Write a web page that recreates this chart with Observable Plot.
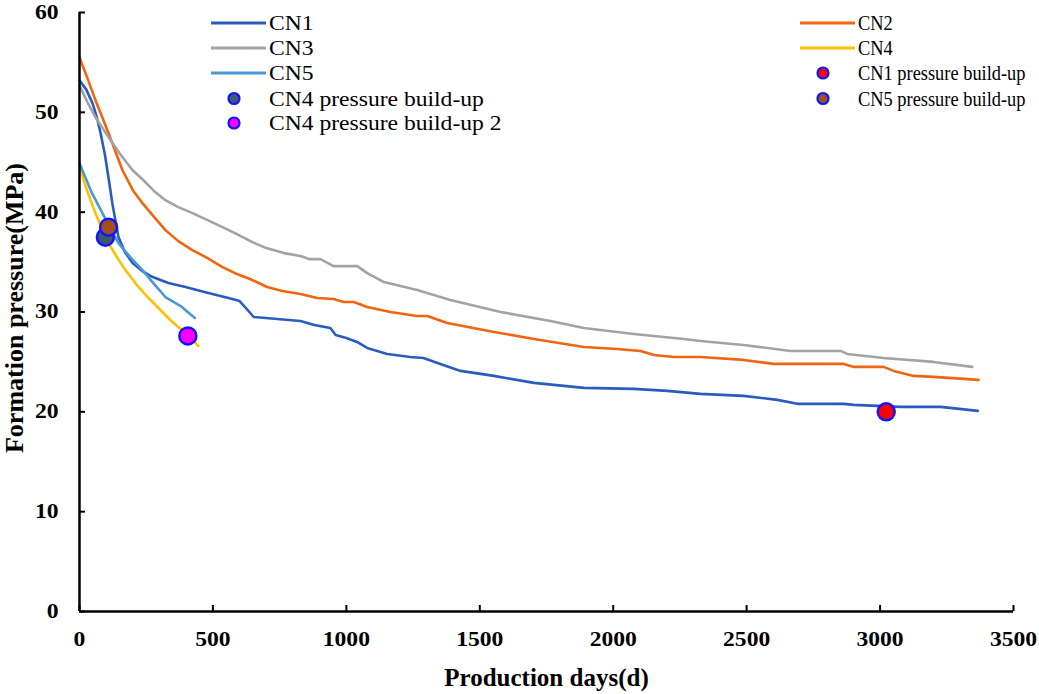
<!DOCTYPE html>
<html>
<head>
<meta charset="utf-8">
<script src="https://cdn.jsdelivr.net/npm/d3@7"></script>
<script src="https://cdn.jsdelivr.net/npm/@observablehq/plot@0.6"></script>
<style>
  body { margin: 0; background: #fff; }
  #wrap { position: relative; width: 1039px; height: 694px; font-family: "Liberation Serif", "Times New Roman", serif; }
  #legend { position: absolute; left: 0; top: 0; }
</style>
</head>
<body>
<div id="wrap"></div>
<script>
// ---- data ----
const cn1Days = [0,25,49,65,79,95,109,123,146,170,199,235,274,333,397,483,558,600,630,653,741,828,880,940,960,1000,1040,1078,1153,1240,1289,1352,1428,1553,1703,1890,2077,2203,2327,2488,2615,2690,2864,2902,3077,3227,3366];
const cn1Vals = [53.2,52.3,50.9,49.5,47.9,45.8,43.4,40.9,37.5,36.0,34.9,34.1,33.5,32.9,32.5,31.9,31.4,31.1,30.2,29.5,29.3,29.1,28.7,28.4,27.7,27.4,27.0,26.4,25.8,25.5,25.4,24.8,24.1,23.6,22.9,22.4,22.3,22.1,21.8,21.6,21.2,20.8,20.8,20.7,20.5,20.5,20.1];

const cn2Days = [0,30,60,109,161,200,236,280,322,370,423,480,536,590,648,703,760,828,891,952,990,1028,1078,1165,1265,1303,1378,1553,1703,1890,2015,2102,2153,2227,2327,2488,2601,2864,2902,3013,3051,3126,3200,3369];
const cn2Vals = [55.5,53.4,51.2,47.9,44.2,42.2,40.9,39.5,38.2,37.1,36.2,35.4,34.5,33.8,33.2,32.5,32.1,31.8,31.4,31.3,31.0,31.0,30.5,30.0,29.6,29.6,28.9,28.0,27.3,26.5,26.3,26.1,25.7,25.5,25.5,25.2,24.8,24.8,24.5,24.5,24.1,23.6,23.5,23.2];

const cn3Days = [0,30,60,109,150,199,236,280,322,370,423,480,536,590,648,700,766,828,860,903,952,1041,1078,1141,1265,1390,1578,1765,1890,2015,2077,2265,2327,2488,2664,2852,2877,3013,3200,3346];
const cn3Vals = [52.7,51.0,49.5,47.5,45.9,44.2,43.3,42.1,41.2,40.5,39.9,39.2,38.5,37.8,37.0,36.4,35.9,35.6,35.3,35.3,34.6,34.6,33.9,33.0,32.2,31.2,30.0,29.1,28.4,28.0,27.8,27.3,27.1,26.7,26.1,26.1,25.8,25.4,25.0,24.5];

const cn4Days = [0,20,40,60,85,109,140,172,215,259,303,340,379,410,445];
const cn4Vals = [44.7,42.8,41.3,39.9,38.3,36.9,35.5,34.2,32.7,31.4,30.2,29.2,28.3,27.6,26.6];

const cn5Days = [0,11,45,86,115,146,190,236,280,322,379,432];
const cn5Vals = [44.9,44.2,42.0,39.9,38.4,36.9,35.5,34.2,32.8,31.5,30.6,29.4];

const seriesNames = ["CN1","CN2","CN3","CN4","CN5"];
const seriesColors = ["#2a5cbf","#f0650f","#a3a3a3","#ffc000","#4a98d6"];

const pointNames = ["CN4 pressure build-up","CN4 pressure build-up 2","CN1 pressure build-up","CN5 pressure build-up"];
const pointDays = [97, 406, 3023, 109];
const pointVals = [37.5, 27.6, 20.0, 38.5];
const pointFills = ["#3c5a6e","#ff00ff","#ff0000","#a0501e"];
const pointStroke = "#1414ff";

const xTicks = [0,500,1000,1500,2000,2500,3000,3500];
const yTicks = [0,10,20,30,40,50,60];
const xLabel = "Production days(d)";
const yLabel = "Formation pressure(MPa)";

// ---- build table ----
const allDays = [cn1Days,cn2Days,cn3Days,cn4Days,cn5Days];
const allVals = [cn1Vals,cn2Vals,cn3Vals,cn4Vals,cn5Vals];
const lines = [];
seriesNames.forEach((s, i) => allDays[i].forEach((d, j) => lines.push({series: s, day: d, p: allVals[i][j]})));
const points = pointNames.map((n, i) => ({name: n, day: pointDays[i], p: pointVals[i], fill: pointFills[i]}));

const font = '"Liberation Serif", "Times New Roman", serif';
const stretch = 1.18; // horizontal stretch of the reference's text

const chart = Plot.plot({
  width: 1039,
  height: 694,
  marginLeft: 79,
  marginRight: 26,
  marginTop: 12,
  marginBottom: 83,
  style: {fontFamily: font, background: "#fff", color: "#000"},
  x: {domain: [0, 3500], label: null},
  y: {domain: [0, 60], label: null},
  color: {domain: seriesNames, range: seriesColors},
  marks: [
    Plot.line(lines, {x: "day", y: "p", z: "series", stroke: "series", strokeWidth: 2.6, curve: "linear"}),
    Plot.dot(points, {x: "day", y: "p", r: 8.5, fill: "fill", stroke: pointStroke, strokeWidth: 2.5}),
    Plot.ruleX([0], {stroke: "#000", strokeWidth: 2.5}),
    Plot.ruleY([0], {stroke: "#000", strokeWidth: 2.5}),
    Plot.axisX({ticks: xTicks, tickSize: -6, tickPadding: 26, fontSize: 20, fontWeight: "bold", strokeWidth: 2, label: null, tickFormat: d3.format("d")}),
    Plot.axisY({ticks: yTicks, tickSize: -6, tickPadding: 27, fontSize: 20, fontWeight: "bold", strokeWidth: 2, label: null}),
    Plot.text([xLabel], {frameAnchor: "bottom", textAnchor: "middle", lineAnchor: "middle", dy: 66, fontSize: 25, fontWeight: "bold", fill: "#000", ariaLabel: "x-title"}),
    Plot.text([yLabel], {frameAnchor: "left", textAnchor: "middle", lineAnchor: "middle", dx: -65, dy: -4, rotate: -90, fontSize: 26, fontWeight: "bold", fill: "#000"})
  ]
});

const wrap = document.getElementById("wrap");
wrap.appendChild(chart);

// stretch horizontal (non-rotated) text horizontally, as in the reference
function stretchText(sel, s) {
  sel.each(function() {
    const t = d3.select(this);
    let tr = t.attr("transform") || "";
    if (/rotate/.test(tr)) return;
    const xa = t.attr("x");
    if (xa != null && !/em/.test(xa) && +xa) { tr += ` translate(${+xa},0)`; t.attr("x", 0); }
    t.attr("transform", (tr + ` scale(${s},1)`).trim());
  });
}
stretchText(d3.select(chart).selectAll("g[aria-label$='tick label'] text"), stretch);
stretchText(d3.select(chart).selectAll("g[aria-label='x-title'] text"), 1.05);

// ---- legend overlay ----
const leg = d3.select(wrap).append("svg").attr("id", "legend").attr("width", 1039).attr("height", 140);
const legendItems = [
  {type: "line", label: "CN1", color: seriesColors[0], col: 0, row: 0},
  {type: "line", label: "CN2", color: seriesColors[1], col: 1, row: 0},
  {type: "line", label: "CN3", color: seriesColors[2], col: 0, row: 1},
  {type: "line", label: "CN4", color: seriesColors[3], col: 1, row: 1},
  {type: "line", label: "CN5", color: seriesColors[4], col: 0, row: 2},
  {type: "dot", label: pointNames[2], color: pointFills[2], col: 1, row: 2},
  {type: "dot", label: pointNames[0], color: pointFills[0], col: 0, row: 3},
  {type: "dot", label: pointNames[3], color: pointFills[3], col: 1, row: 3},
  {type: "dot", label: pointNames[1], color: pointFills[1], col: 0, row: 4}
];
const colX = [211, 800];
const colStretch = [stretch, 0.92];
const rowY = [23, 48, 73, 98.5, 123];
legendItems.forEach(it => {
  const x0 = colX[it.col], y = rowY[it.row];
  if (it.type === "line") {
    leg.append("line").attr("x1", x0).attr("x2", x0 + 55).attr("y1", y).attr("y2", y)
      .attr("stroke", it.color).attr("stroke-width", 2.8);
  } else {
    leg.append("circle").attr("cx", x0 + 23).attr("cy", y).attr("r", 5.5)
      .attr("fill", it.color).attr("stroke", pointStroke).attr("stroke-width", 2.2);
  }
  leg.append("text").attr("transform", `translate(${x0 + 58},${y}) scale(${colStretch[it.col]},1)`).attr("dy", "0.35em")
    .attr("font-family", font).attr("font-size", 20).attr("fill", "#000").text(it.label);
});
</script>
</body>
</html>
